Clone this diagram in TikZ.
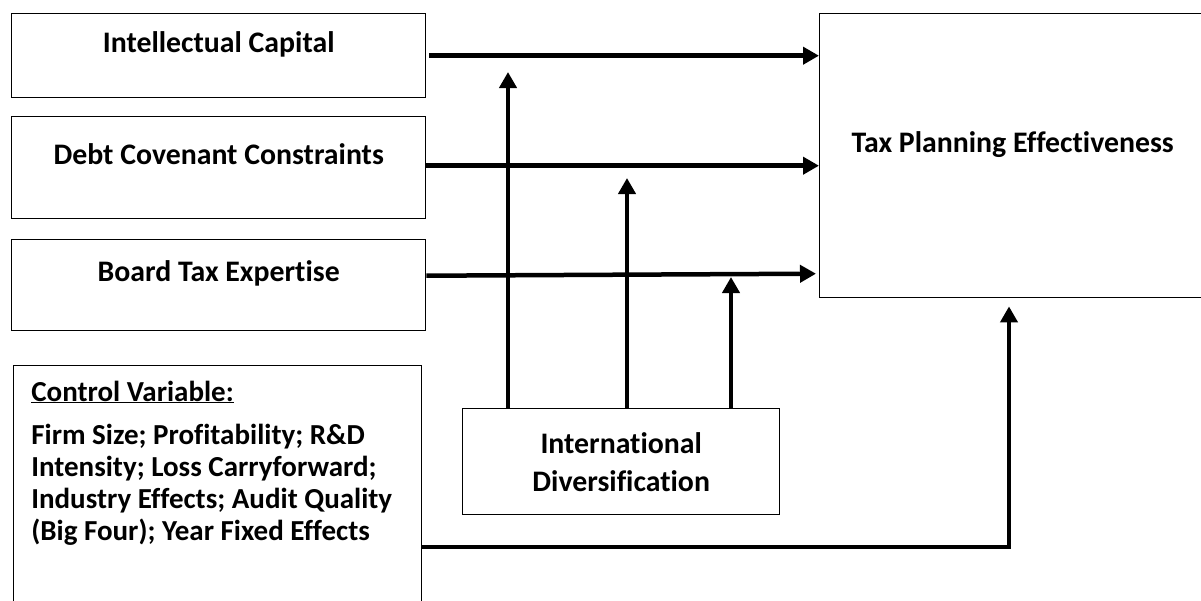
\documentclass[tikz,border=0pt]{standalone}
\usepackage{fontspec}
\setmainfont{Carlito}[Ligatures=NoCommon]
\usetikzlibrary{arrows.meta}

\begin{document}
\begin{tikzpicture}[x=1pt,y=-1pt,
    box/.style={draw,line width=1.4pt,anchor=north west,inner sep=0pt,align=center,
        font=\fontsize{29.8}{32}\selectfont\bfseries},
    upper/.style={text depth=28pt},
    flow/.style={line width=4.5pt,-{Triangle[length=16pt,width=17pt]}}]

%%% frame of the picture
\useasboundingbox (0,0) rectangle (1201,600);

% LEFT COLUMN
\node[box,upper,minimum width=414pt,minimum height=84pt] (ic) at (11,13) {Intellectual Capital};
\node[box,upper,minimum width=414pt,minimum height=102pt] (dcc) at (11,116) {Debt Covenant Constraints};
\node[box,upper,minimum width=414pt,minimum height=91pt] (bte) at (11,239) {Board Tax Expertise};

% CONTROLS
\node[box,minimum width=408pt,minimum height=275pt] (ctrl) at (13,365) {
    \parbox[c][267pt][t]{366pt}{\raggedright\fontsize{29}{32}\selectfont
        \vspace*{11pt}
        \underline{Control Variable:}\\[11pt]
        Firm Size; Profitability; R\&D\\
        Intensity; Loss Carryforward;\\
        Industry Effects; Audit Quality\\
        (Big Four); Year Fixed Effects}
};

% MODERATOR
\node[box,minimum width=317pt,minimum height=106pt] (intl) at (462,408) {International\\[6pt]Diversification};

% OUTCOME
\node[box,upper,minimum width=386pt,minimum height=284pt] (tpe) at (819,13) {Tax Planning Effectiveness};

% direct paths
\draw[flow] ([xshift=3pt]ic.east) -- (ic.east -| tpe.west);
\draw[flow] ([yshift=2pt]dcc.east) -- ([yshift=2pt]dcc.east -| tpe.west);
\draw[flow] ([yshift=9.5pt]bte.east) -- ([yshift=11.5pt,xshift=-3pt]bte.east -| tpe.west);

% moderating paths
\coordinate (m1) at (508,72);
\coordinate (m2) at (627,178);
\coordinate (m3) at (731,277);
\draw[flow,line width=4pt] (intl.north -| m1) -- (m1);
\draw[flow,line width=4pt] (intl.north -| m2) -- (m2);
\draw[flow,line width=4pt] (intl.north -| m3) -- (m3);

% control path
\coordinate (bend) at (1009,547);
\draw[flow,line width=4pt,shorten >=8pt] (ctrl.east |- bend) -- (bend) -- (bend |- tpe.south);
\end{tikzpicture}
\end{document}
